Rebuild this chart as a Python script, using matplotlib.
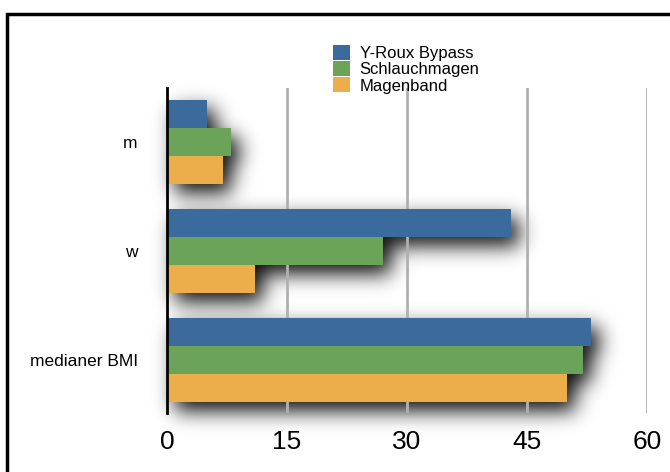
import numpy as np
import matplotlib
matplotlib.use('Agg')
import matplotlib.pyplot as plt
from matplotlib.patches import Rectangle

plt.rcParams['font.family'] = ['Liberation Sans', 'DejaVu Sans']

# Daten
categories = ['medianer BMI', 'w', 'm']
series_names = ['Y-Roux Bypass', 'Schlauchmagen', 'Magenband']
y_roux = [53, 43, 5]
schlauch = [52, 27, 8]
magenband = [50, 11, 7]
x_ticks = [0, 15, 30, 45, 60]

colors = ['#3b6b9c', '#6ba459', '#ecae4b']
values = [y_roux, schlauch, magenband]

W, H = 670, 472
fig = plt.figure(figsize=(W / 100, H / 100), dpi=100)
ax = fig.add_axes([0.249, 0.125, 0.717, 0.689])
ax.set_zorder(1)
ax.patch.set_visible(False)

pos = np.arange(len(categories))
h = 0.257

bars = []
for i, vals in enumerate(values):
    ypos = pos - (i - 1) * h
    bars += list(ax.barh(ypos, vals, height=h, color=colors[i],
                         label=series_names[i], zorder=3))

ax.set_xlim(0, 60)
ax.set_ylim(-0.49, 2.5)
ax.set_xticks(x_ticks)
ax.set_xticklabels([str(t) for t in x_ticks], fontsize=19)
ax.set_yticks(pos)
ax.set_yticklabels(categories, fontsize=12.5)
ax.tick_params(axis='x', length=0, pad=12)
ax.tick_params(axis='y', length=0, pad=21)

for t in x_ticks[1:]:
    ax.axvline(t, color='#b0b0b0', linewidth=2, zorder=0)

for s in ['top', 'right', 'bottom']:
    ax.spines[s].set_visible(False)
ax.spines['left'].set_linewidth(2)
ax.spines['left'].set_color('black')
ax.spines['left'].set_zorder(4)

# weicher Schlagschatten: Balkenmaske in Pixeln, verschoben und weichgezeichnet
mask = np.zeros((H, W))
dx, dy = 8, 9
for b in bars:
    (x0, y0), (x1, y1) = ax.transData.transform([(b.get_x(), b.get_y()),
                                                 (b.get_x() + b.get_width(),
                                                  b.get_y() + b.get_height())])
    c0, c1 = int(round(x0)) + dx, int(round(x1)) + dx
    r0, r1 = int(round(y0)) - dy, int(round(y1)) - dy
    mask[max(r0, 0):r1, max(c0, 0):c1] = 1.0

sigma = 10.0
k = np.arange(-35, 36)
kern = np.exp(-k ** 2 / (2 * sigma ** 2))
kern /= kern.sum()
blur = np.apply_along_axis(lambda r: np.convolve(r, kern, mode='same'), 1, mask)
blur = np.apply_along_axis(lambda c: np.convolve(c, kern, mode='same'), 0, blur)
shadow = np.zeros((H, W, 4))
shadow[..., 3] = np.clip(blur * 0.95, 0, 1)
fig.figimage(shadow, xo=0, yo=0, origin='lower', zorder=0.5)

ax.legend(loc='upper left', bbox_to_anchor=(0.332, 1.152), frameon=False,
          fontsize=12, handlelength=1.0, handleheight=1.0,
          handletextpad=0.6, labelspacing=0.0, borderaxespad=0)

# Rahmen
fig.patches.append(Rectangle((7 / W, -0.2), 1.5, 1.2 - 13.5 / H,
                             transform=fig.transFigure, fill=False,
                             edgecolor='black', linewidth=2.5))

fig.savefig('out.png', dpi=100)
